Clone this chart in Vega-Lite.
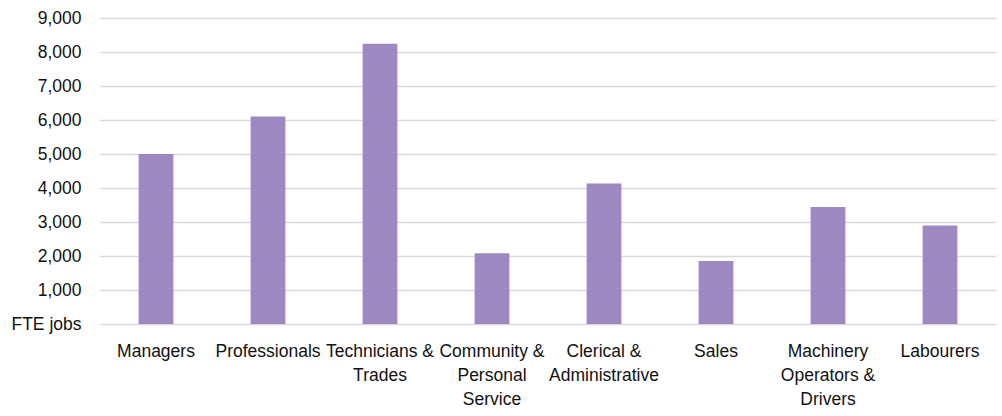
{
  "$schema": "https://vega.github.io/schema/vega-lite/v6.json",
  "autosize": {"type": "none"},
  "padding": {"left": 100, "top": 18, "right": 6, "bottom": 92},
  "width": 896,
  "height": 306,
  "background": "white",
  "config": {
    "view": {"stroke": null},
    "font": "Liberation Sans"
  },
  "data": {
    "values": [
      {"occupation": "Managers", "jobs": 5000},
      {"occupation": "Professionals", "jobs": 6100},
      {"occupation": "Technicians & Trades", "jobs": 8240},
      {"occupation": "Community & Personal Service", "jobs": 2080},
      {"occupation": "Clerical & Administrative", "jobs": 4130},
      {"occupation": "Sales", "jobs": 1850},
      {"occupation": "Machinery Operators & Drivers", "jobs": 3440},
      {"occupation": "Labourers", "jobs": 2900}
    ]
  },
  "mark": {"type": "bar", "color": "#9e88c0"},
  "encoding": {
    "x": {
      "field": "occupation",
      "type": "nominal",
      "sort": null,
      "scale": {"paddingInner": 0.69, "paddingOuter": 0.345},
      "axis": {
        "title": null,
        "domain": false,
        "ticks": false,
        "labelAngle": 0,
        "labelFontSize": 17.5,
        "labelColor": "#111111",
        "labelPadding": 18,
        "labelLineHeight": 24,
        "labelLimit": 200,
        "labelExpr": "({'Technicians & Trades': ['Technicians &', 'Trades'], 'Community & Personal Service': ['Community &', 'Personal', 'Service'], 'Clerical & Administrative': ['Clerical &', 'Administrative'], 'Machinery Operators & Drivers': ['Machinery', 'Operators &', 'Drivers']})[datum.value] || datum.value"
      }
    },
    "y": {
      "field": "jobs",
      "type": "quantitative",
      "scale": {"domain": [0, 9000], "nice": false},
      "axis": {
        "title": null,
        "domain": false,
        "ticks": false,
        "values": [0, 1000, 2000, 3000, 4000, 5000, 6000, 7000, 8000, 9000],
        "labelFontSize": 17.5,
        "labelColor": "#111111",
        "labelPadding": 19,
        "gridColor": "#d9d9d9",
        "gridWidth": 1.5,
        "labelExpr": "datum.value == 0 ? 'FTE jobs' : format(datum.value, ',')"
      }
    }
  }
}
